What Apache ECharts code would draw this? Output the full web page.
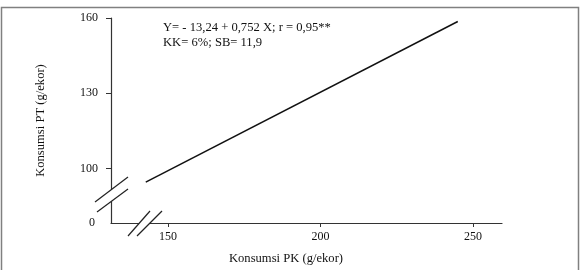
<!DOCTYPE html>
<html><head><meta charset="utf-8">
<script src="https://cdn.jsdelivr.net/npm/echarts@6/dist/echarts.min.js"></script>
<style>html,body{margin:0;padding:0;background:#fff}#c{width:582px;height:270px}</style>
</head><body><div id="c"></div>
<script>
// Data
var xTicks = [150, 200, 250];
var yTicks = [100, 130, 160];
var yBreakLabel = '0';
var lineX = [142.7, 245];
var lineY = [94.6, 158.6];
var equationLines = ['Y= - 13,24 + 0,752 X; r = 0,95**', 'KK= 6%; SB= 11,9'];
var xName = 'Konsumsi PK (g/ekor)';
var yName = 'Konsumsi PT (g/ekor)';
var xMin = 131.3, xMax = 259.5, yMin = 78.3, yMax = 160;

var FONT = 'Liberation Serif';
var chart = echarts.init(document.getElementById('c'), null, {renderer: 'canvas'});
var data = lineX.map(function (x, i) { return [x, lineY[i]]; });
chart.setOption({
  animation: false,
  backgroundColor: '#fff',
  grid: {left: 111, right: 80, top: 18, bottom: 41, containLabel: false},
  title: {
    text: equationLines.join('\n'), left: 158, top: 15,
    textStyle: {fontFamily: FONT, fontSize: 12.6, fontWeight: 'normal', color: '#111', lineHeight: 15}
  },
  xAxis: {
    type: 'value', min: xMin, max: xMax,
    name: xName, nameLocation: 'middle', nameGap: 29,
    nameTextStyle: {fontFamily: FONT, fontSize: 12.6, color: '#111', padding: [0, 41, 0, 0]},
    axisLine: {show: true, lineStyle: {color: '#333', width: 1.2}},
    axisTick: {show: true, customValues: xTicks, length: 4, lineStyle: {color: '#333'}},
    axisLabel: {customValues: xTicks, margin: 8, fontFamily: FONT, fontSize: 12, color: '#111'},
    splitLine: {show: false}
  },
  yAxis: {
    type: 'value', min: yMin, max: yMax,
    name: yName, nameLocation: 'middle', nameGap: 64, nameRotate: 90,
    nameTextStyle: {fontFamily: FONT, fontSize: 12.6, color: '#111'},
    axisLine: {show: true, lineStyle: {color: '#333', width: 1.2}},
    axisTick: {show: true, customValues: yTicks, length: 5, lineStyle: {color: '#333'}},
    axisLabel: {customValues: [yMin].concat(yTicks), margin: 13, fontFamily: FONT, fontSize: 12, color: '#111',
      formatter: function (v) { return v < yTicks[0] - 10 ? '{z|' + yBreakLabel + '}' : String(v); },
      rich: {z: {fontFamily: FONT, fontSize: 12, color: '#111', padding: [0, 3, 0, 0]}}},
    splitLine: {show: false}
  },
  series: [{
    type: 'line', data: data, symbol: 'none', silent: true,
    lineStyle: {color: '#111', width: 1.5}
  }]
});

var o = chart.convertToPixel({gridIndex: 0}, [xMin, yMin]);
var ox = o[0], oy = o[1];
function seg(x1, y1, x2, y2) {
  return {type: 'line', shape: {x1: ox + x1, y1: oy + y1, x2: ox + x2, y2: oy + y2},
    style: {stroke: '#222', lineWidth: 1.2}, z: 100};
}
chart.setOption({graphic: [
  {type: 'rect', shape: {x: 1.5, y: 7.5, width: 577, height: 270}, style: {fill: null, stroke: '#808080', lineWidth: 1.5}, z: 100},
  // y-axis break
  {type: 'polygon', shape: {points: [[ox - 16, oy - 21], [ox + 17, oy - 46], [ox + 17, oy - 34], [ox - 14, oy - 11]]}, style: {fill: '#fff'}, z: 99},
  seg(-16, -21, 17, -46), seg(-14, -11, 17, -34),
  // x-axis break
  {type: 'polygon', shape: {points: [[ox + 17, oy + 13], [ox + 39, oy - 12], [ox + 51, oy - 12], [ox + 26, oy + 13]]}, style: {fill: '#fff'}, z: 99},
  seg(17, 13, 39, -12), seg(26, 13, 51, -12)
]});
</script>
</body></html>
